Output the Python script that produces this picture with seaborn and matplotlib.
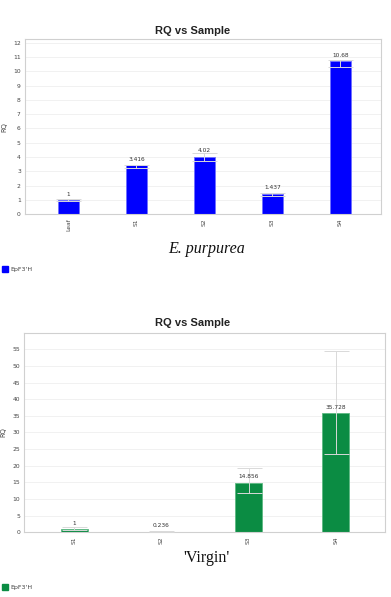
import matplotlib
matplotlib.use('Agg')
import matplotlib.pyplot as plt
import seaborn as sns
import pandas as pd

# -- data --
top_samples = ['Leaf', 'S1', 'S2', 'S3', 'S4']
top_rq = [1.0, 3.416, 4.02, 1.437, 10.68]
top_rq_min = [0.93, 3.25, 3.74, 1.30, 10.28]
top_rq_max = [1.07, 3.47, 4.30, 1.50, 10.80]
top_labels = ['1', '3.416', '4.02', '1.437', '10.68']
top_yticks = [0, 1, 2, 3, 4, 5, 6, 7, 8, 9, 10, 11, 12]

bot_samples = ['S1', 'S2', 'S3', 'S4']
bot_rq = [1.0, 0.236, 14.856, 35.728]
bot_rq_min = [0.7, 0.15, 11.7, 23.5]
bot_rq_max = [1.7, 0.45, 19.2, 54.5]
bot_labels = ['1', '0.236', '14.856', '35.728']
bot_yticks = [0, 5, 10, 15, 20, 25, 30, 35, 40, 45, 50, 55]

gene = "EpF3'H"

sns.set_style('white')
plt.rcParams['font.family'] = ['DejaVu Sans']

fig = plt.figure(figsize=(3.91, 5.97), dpi=100)


def rq_panel(ax, samples, rq, lo, hi, labels, color, edge, ymax, yticks, xlim):
    df = pd.DataFrame({'Sample': samples, 'RQ': rq})
    sns.barplot(data=df, x='Sample', y='RQ', color=color, width=0.31,
                edgecolor=edge, linewidth=0.6, saturation=1, ax=ax)
    xs = list(range(len(samples)))
    err = [[v - l for v, l in zip(rq, lo)], [h - v for v, h in zip(rq, hi)]]
    ax.errorbar(xs, rq, yerr=err, fmt='none', ecolor='#d9d9d9',
                elinewidth=0.7, capsize=9, capthick=0.7, zorder=3)
    for x, v, t in zip(xs, rq, labels):
        ax.annotate(t, (x, v), xytext=(0, 2.5), textcoords='offset points',
                    ha='center', va='bottom', fontsize=4.2, color='#333333')
    ax.set_ylim(0, ymax)
    ax.set_xlim(*xlim)
    ax.set_yticks(yticks)
    ax.yaxis.grid(True, color='#efefef', linewidth=0.6)
    ax.set_axisbelow(True)
    for s in ax.spines.values():
        s.set_color('#d0d0d0')
        s.set_linewidth(0.8)
    ax.tick_params(axis='both', length=0, labelsize=4.3, labelcolor='#444444', pad=3)
    ax.tick_params(axis='x', labelrotation=90)
    ax.set_xlabel('')
    ax.set_ylabel('RQ', fontsize=4.8, color='#444444')
    ax.yaxis.set_label_coords(-0.05, 0.5)


ax1 = fig.add_axes([25 / 391, 1 - 214.3 / 597, 356 / 391, 175.3 / 597])
rq_panel(ax1, top_samples, top_rq, top_rq_min, top_rq_max, top_labels,
         '#0000ff', '#7070ff', 12.25, top_yticks, (-0.64, 4.6))

ax2 = fig.add_axes([24.3 / 391, 1 - 532.3 / 597, 361.2 / 391, 199.6 / 597])
rq_panel(ax2, bot_samples, bot_rq, bot_rq_min, bot_rq_max, bot_labels,
         '#0b8c43', '#5cb882', 60, bot_yticks, (-0.57, 3.57))

# titles
for yc in [31, 323.3]:
    fig.text(193 / 391, 1 - yc / 597, 'RQ vs Sample', ha='center', va='center',
             fontsize=8, fontweight='bold', family='Liberation Sans', color='#222222')

# captions
fig.text(207 / 391, 1 - 249 / 597, 'E. purpurea', ha='center', va='center',
         fontsize=11.5, style='italic', family='Liberation Serif', color='#111111')
fig.text(206 / 391, 1 - 558 / 597, "'Virgin'", ha='center', va='center',
         fontsize=11.5, family='Liberation Serif', color='#111111')

# legends
for yc, col in [(269, '#0000ff'), (587, '#0b8c43')]:
    fig.patches.append(plt.Rectangle((2 / 391, 1 - (yc + 3) / 597), 6 / 391, 6 / 597,
                                     transform=fig.transFigure, color=col, figure=fig))
    fig.text(10 / 391, 1 - yc / 597, gene, ha='left', va='center',
             fontsize=4.5, color='#444444')

fig.savefig('out.png', dpi=100)
